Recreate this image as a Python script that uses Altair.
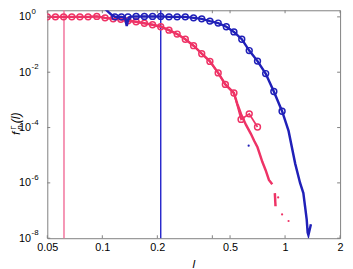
import altair as alt
import pandas as pd

# ---------------- data ----------------
# pink series (circles)
pink_circ_l = [0.05, 0.0554, 0.0614, 0.0681, 0.0754, 0.0836, 0.0933, 0.1035, 0.1147,
               0.1262, 0.1382, 0.1531, 0.1699, 0.1883, 0.2087, 0.2316, 0.2567, 0.2845,
               0.3157, 0.3499, 0.3879, 0.4305, 0.4712, 0.525, 0.5744, 0.6367, 0.7066]
pink_circ_f = [1.0, 1.0, 1.0, 1.0, 1.0, 1.0, 1.04, 0.921, 0.849,
               0.815, 0.721, 0.664, 0.587, 0.520, 0.441, 0.3315, 0.239, 0.156,
               0.091, 0.0466, 0.0246, 0.00944, 0.00363, 0.00177, 0.000197, 0.000312, 0.000105]

# pink dense curve (two pieces) and isolated samples
pink_line_l = [0.05, 0.0554, 0.0614, 0.0681, 0.0754, 0.0836, 0.0933, 0.1035, 0.1147,
               0.1262, 0.1382, 0.1531, 0.1699, 0.1883, 0.2087, 0.2316, 0.2567, 0.2845,
               0.3157, 0.3499, 0.3879, 0.4305, 0.4712, 0.525, 0.5467, 0.5744, 0.6114,
               0.650, 0.6774, 0.7066, 0.7516, 0.783, 0.816, 0.851]
pink_line_f = [1.0, 1.0, 1.0, 1.0, 1.0, 1.0, 1.04, 0.921, 0.849,
               0.815, 0.721, 0.664, 0.587, 0.520, 0.441, 0.3315, 0.239, 0.156,
               0.091, 0.0466, 0.0246, 0.00944, 0.00363, 0.00177, 0.000748, 0.000304, 0.000124,
               5.93e-5, 3.34e-5, 1.93e-5, 5.66e-6, 2.87e-6, 1.27e-6, 8.9e-7]
pink_line2_l = [0.879, 0.8866]
pink_line2_f = [4.27e-7, 1.43e-7]
pink_dots_l = [0.9166, 0.963, 1.045]
pink_dots_f = [2.98e-7, 7.24e-8, 4.19e-8]

# blue series
blue_circ_l = [0.1172, 0.1272, 0.1382, 0.1531, 0.1699, 0.1883, 0.2087, 0.2316, 0.2567,
               0.2845, 0.3157, 0.3499, 0.3879, 0.4305, 0.477, 0.525, 0.5796, 0.6367,
               0.7066, 0.783, 0.868, 0.963]
blue_circ_f = [1.0, 1.0, 1.0, 1.04, 1.04, 1.04, 1.04, 1.0, 1.0,
               1.0, 0.921, 0.849, 0.704, 0.597, 0.441, 0.286, 0.156, 0.0605,
               0.0252, 0.00892, 0.002, 0.000389]
blue_line_l = [0.0964, 0.1026, 0.1078, 0.1133, 0.1172, 0.1272, 0.1331, 0.1360, 0.1395,
               0.1434, 0.1531, 0.1699, 0.1883, 0.2087, 0.2316, 0.2567, 0.2845, 0.3157,
               0.3499, 0.3879, 0.4305, 0.477, 0.525, 0.5796, 0.6367, 0.7066, 0.783,
               0.868, 0.963, 1.045, 1.136, 1.208, 1.259, 1.286, 1.313, 1.329, 1.342, 1.385]
blue_line_f = [3.14, 2.09, 1.505, 1.13, 1.0, 1.0, 0.95, 0.467, 0.95,
               1.02, 1.04, 1.04, 1.04, 1.04, 1.0, 1.0, 1.0, 0.921,
               0.849, 0.704, 0.597, 0.441, 0.286, 0.156, 0.0605, 0.0252, 0.00892,
               0.002, 0.000389, 7.57e-5, 4.97e-6, 9.92e-7, 4.27e-7, 1.43e-7, 4.81e-8, 1.62e-8, 1.30e-8, 3.19e-8]
blue_dots_l = [0.632]
blue_dots_f = [2.22e-5]

# vertical marker lines
vline_pink = [0.0617]
vline_blue = [0.2087]

# axes
x_ticks = [0.05, 0.1, 0.2, 0.4, 0.5, 1, 2]
y_ticks = [1e-8, 1e-6, 1e-4, 1e-2, 1]
y_exps = ["-8", "-6", "-4", "-2", "0"]

BLUE = "#2020b8"
PINK = "#ee3366"
PINK_V = "#f2739c"
BLUE_V = "#2a2acc"
FRAME = "#808080"
FONT = "Liberation Sans"

W, H = 298, 232

xs = alt.Scale(type="log", domain=[0.05, 2], nice=False)
ys = alt.Scale(type="log", domain=[1e-8, 1.73], nice=False)

xaxis = alt.Axis(values=x_ticks, format="~g", labelExpr="datum.value == 0.4 ? '' : datum.label",
                 labelFlush=False, labelOverlap=False, labelPadding=3, title=None)
yaxis = alt.Axis(values=y_ticks, labelExpr="'10'", labelPadding=17, labelOverlap=False,
                 labelFlush=False, title=None)

X = alt.X("l:Q", scale=xs, axis=xaxis)
Y = alt.Y("f:Q", scale=ys, axis=yaxis)


def df(l, f):
    return pd.DataFrame({"l": l, "f": f})


vr_p = alt.Chart(pd.DataFrame({"l": vline_pink})).mark_rule(color=PINK_V, strokeWidth=1.5).encode(x=X)
vr_b = alt.Chart(pd.DataFrame({"l": vline_blue})).mark_rule(color=BLUE_V, strokeWidth=1.5).encode(x=X)

pink_line = alt.Chart(df(pink_line_l, pink_line_f)).mark_line(color=PINK, strokeWidth=2.5, clip=True).encode(x=X, y=Y)
pink_line2 = alt.Chart(df(pink_line2_l, pink_line2_f)).mark_line(color=PINK, strokeWidth=2.5, clip=True).encode(x=X, y=Y)
pink_cline = alt.Chart(df(pink_circ_l, pink_circ_f)).mark_line(color=PINK, strokeWidth=1.8, clip=True).encode(x=X, y=Y)
pink_pts = alt.Chart(df(pink_circ_l, pink_circ_f)).mark_point(shape="circle", filled=False, size=36,
                                                              strokeWidth=1.5, color=PINK, opacity=1, clip=True).encode(x=X, y=Y)
pink_dots = alt.Chart(df(pink_dots_l, pink_dots_f)).mark_point(shape="circle", filled=True, size=5,
                                                               color=PINK, opacity=1, clip=True).encode(x=X, y=Y)

blue_line = alt.Chart(df(blue_line_l, blue_line_f)).mark_line(color=BLUE, strokeWidth=2.5, clip=True).encode(x=X, y=Y)
blue_pts = alt.Chart(df(blue_circ_l, blue_circ_f)).mark_point(shape="circle", filled=False, size=36,
                                                              strokeWidth=1.5, color=BLUE, opacity=1, clip=True).encode(x=X, y=Y)
blue_dots = alt.Chart(df(blue_dots_l, blue_dots_f)).mark_point(shape="circle", filled=True, size=5,
                                                               color=BLUE, opacity=1, clip=True).encode(x=X, y=Y)

# inward ticks
xt = pd.DataFrame({"l": x_ticks})
yt = pd.DataFrame({"f": y_ticks, "e": y_exps})
tick_b = alt.Chart(xt).mark_rule(color=FRAME, strokeWidth=1).encode(x=X, y=alt.value(H), y2=alt.value(H - 3))
tick_t = alt.Chart(xt).mark_rule(color=FRAME, strokeWidth=1).encode(x=X, y=alt.value(0), y2=alt.value(3))
tick_l = alt.Chart(yt).mark_rule(color=FRAME, strokeWidth=1).encode(y=Y, x=alt.value(0), x2=alt.value(3))
tick_r = alt.Chart(yt).mark_rule(color=FRAME, strokeWidth=1).encode(y=Y, x=alt.value(W - 3), x2=alt.value(W))

# exponents of the y labels
exps = alt.Chart(yt).mark_text(align="left", baseline="middle", dy=-5, fontSize=8, font=FONT,
                               color="black").encode(y=Y, x=alt.value(-16), text="e:N")

# axis titles
def txt(s, x, y, size, style="normal", angle=0, align="center", baseline="middle"):
    return alt.Chart(pd.DataFrame({"t": [s]})).mark_text(
        font=FONT, fontSize=size, fontStyle=style, angle=angle, align=align,
        baseline=baseline, color="black").encode(x=alt.value(x), y=alt.value(y), text="t:N")

xtitle = txt("l", W / 2, 262, 12, style="italic", baseline="alphabetic")
yt_f = txt("f", -28, 127, 12, style="italic", angle=270, align="left", baseline="alphabetic")
yt_G = txt("Γ", -31.5, 121.5, 8, angle=270, align="left", baseline="alphabetic")
yt_n = txt("n", -25.5, 121.5, 8, style="italic", angle=270, align="left", baseline="alphabetic")
yt_l = txt("(l)", -28, 115, 12.5, style="italic", angle=270, align="left", baseline="alphabetic")

chart = alt.layer(
    vr_p, vr_b,
    pink_line, pink_line2, pink_cline, pink_pts, pink_dots,
    blue_line, blue_pts, blue_dots,
    tick_b, tick_t, tick_l, tick_r, exps,
    xtitle, yt_f, yt_G, yt_n, yt_l,
).properties(
    width=W, height=H,
    padding={"left": 40, "top": 0, "right": 5, "bottom": 29},
    autosize=alt.AutoSizeParams(type="none"),
).configure_view(
    stroke=FRAME, strokeWidth=1
).configure_axis(
    labelFont=FONT, labelFontSize=11, labelColor="black", domain=False, ticks=False,
    tickSize=0, grid=False
)

chart.save("out.html", embed_options={"renderer": "svg", "actions": False})
